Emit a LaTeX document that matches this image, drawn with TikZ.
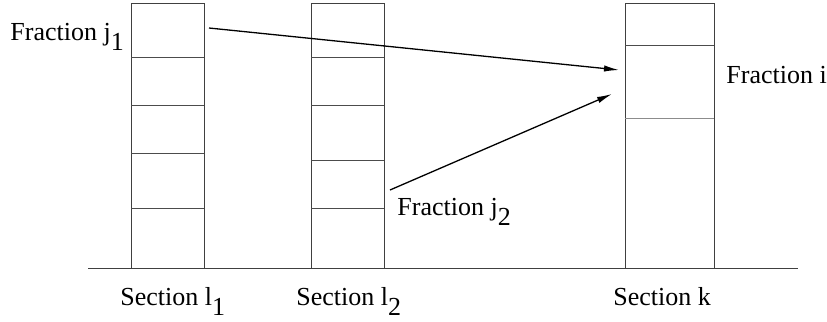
\documentclass[tikz,border=0pt]{standalone}
\usepackage{fontspec}
\setmainfont{Liberation Serif}
\usetikzlibrary{arrows.meta}
\newcommand{\lowsub}[1]{\raisebox{-0.4em}{#1}}

\begin{document}
\begin{tikzpicture}[x=0.5pt, y=-0.5pt, font=\fontsize{13}{16}\selectfont,
  lbl/.style={anchor=base west, inner sep=0pt}]
  \useasboundingbox (0,0) rectangle (827,322);
  % ground line
  \draw[line width=0.5pt, black!75] (88,268)--(798,268);
  % section l1
  \draw[line width=0.5pt, black!75] (131,3) rectangle (204,268);
  \foreach \hy in {57,105,153,208}{\draw[line width=0.5pt, black!70] (131,\hy)--(204,\hy);}
  % section l2
  \draw[line width=0.5pt, black!75] (311,3) rectangle (384,268);
  \foreach \hy in {57,105,160,208}{\draw[line width=0.5pt, black!70] (311,\hy)--(384,\hy);}
  % section k
  \draw[line width=0.5pt, black!75] (625,3) rectangle (714,268);
  \draw[line width=0.5pt, black!70] (625,45)--(714,45);
  \draw[line width=0.5pt, black!45] (625,118)--(714,118);
  % labels
  \node[lbl] (fj1) at (10,40) {Fraction j\lowsub{1}};
  \node[lbl] (fi) at (726,83) {Fraction i};
  \node[lbl] (fj2) at (397,215) {Fraction j\lowsub{2}};
  \node[lbl] (s1) at (120,305) {Section l\lowsub{1}};
  \node[lbl] (s2) at (296,305) {Section l\lowsub{2}};
  \node[lbl] (sk) at (613,305) {Section k};
  % arrows
  \coordinate (a1) at (209,28);
  \coordinate (b1) at (619,70);
  \coordinate (a2) at (390,190);
  \coordinate (b2) at (612,94);
  \draw[line width=0.65pt, -{Latex[length=7.5pt,width=3.2pt]}] (a1)--(b1);
  \draw[line width=0.65pt, -{Latex[length=7.5pt,width=3.2pt]}] (a2)--(b2);
\end{tikzpicture}
\end{document}
